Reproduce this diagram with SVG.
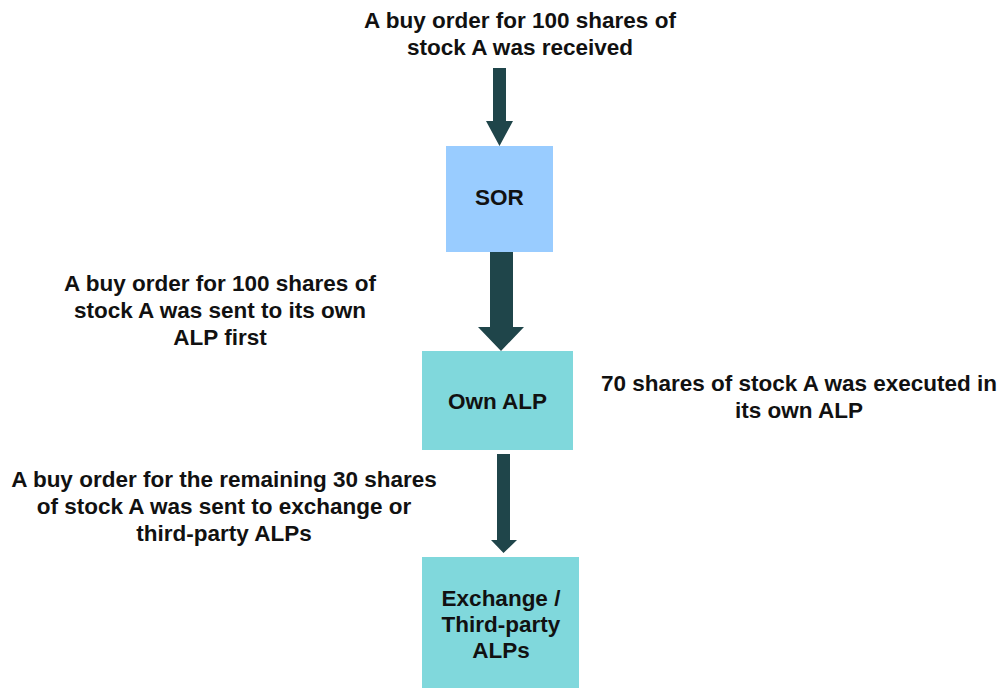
<svg xmlns="http://www.w3.org/2000/svg" width="1003" height="688" viewBox="0 0 1003 688">
  <style>
    text { font-family: "Liberation Sans", Arial, sans-serif; font-weight: bold; font-size: 22.5px; fill: #111111; text-anchor: middle; }
    .arrow { fill: #1F454A; }
    .sor { fill: #99CCFF; }
    .alp { fill: #80D8DC; }
  </style>
  <rect x="0" y="0" width="1003" height="688" fill="#FFFFFF"/>
  <g id="label-received">
    <text x="520" y="28">A buy order for 100 shares of</text>
    <text x="520" y="55">stock A was received</text>
  </g>
  <g id="label-sent-own">
    <text x="220" y="291">A buy order for 100 shares of</text>
    <text x="220" y="318">stock A was sent to its own</text>
    <text x="220" y="345">ALP first</text>
  </g>
  <g id="label-executed">
    <text x="799" y="391">70 shares of stock A was executed in</text>
    <text x="799" y="418">its own ALP</text>
  </g>
  <g id="label-remaining">
    <text x="224" y="487">A buy order for the remaining 30 shares</text>
    <text x="224" y="514">of stock A was sent to exchange or</text>
    <text x="224" y="541">third-party ALPs</text>
  </g>
  <g id="connectors">
    <polygon class="arrow" points="493,68 506,68 506,121 513,121 499.5,146 486,121 493,121"/>
    <polygon class="arrow" points="490,252 513,252 513,327 524,327 501,351 478,327 490,327"/>
    <polygon class="arrow" points="497,454 510,454 510,540 517,540 503.5,553 491,540 497,540"/>
  </g>
  <g id="node-sor">
    <rect class="sor" x="446" y="146" width="107" height="106"/>
    <text x="499.5" y="205">SOR</text>
  </g>
  <g id="node-own-alp">
    <rect class="alp" x="422" y="351" width="151" height="99"/>
    <text x="497.5" y="409">Own ALP</text>
  </g>
  <g id="node-exchange">
    <rect class="alp" x="422" y="557" width="157" height="140"/>
    <text x="501" y="606">Exchange /</text>
    <text x="501" y="632">Third-party</text>
    <text x="501" y="658">ALPs</text>
  </g>
</svg>
